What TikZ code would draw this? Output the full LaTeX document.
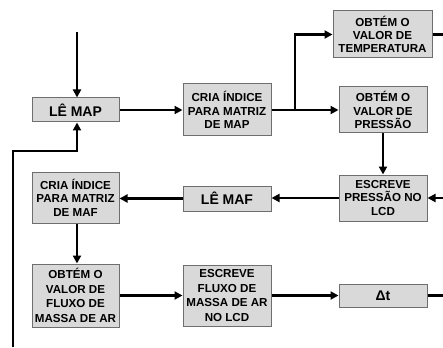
\documentclass[tikz,border=0pt]{standalone}
\usepackage{fontspec}
\setmainfont{Liberation Sans}
\usetikzlibrary{arrows.meta}
\definecolor{boxfill}{HTML}{D9D9D9}
\definecolor{boxline}{HTML}{6E6E6E}
\tikzset{
  blk/.style={draw=boxline, fill=boxfill, line width=1pt, inner sep=0pt,
    align=center, font=\bfseries\fontsize{11.6}{13.6}\selectfont, anchor=center},
  tall/.style={font=\bfseries\fontsize{11.6}{14.8}\selectfont},
  big/.style={font=\bfseries\fontsize{14}{15}\selectfont},
  conn/.style={line width=2.4pt, -{Triangle[length=8pt,width=8pt]}},
  plain/.style={line width=2.4pt}
}
\begin{document}
\begin{tikzpicture}[x=1pt,y=-1pt]
\useasboundingbox (0,0) rectangle (443,347);
% boxes
\node[blk, big, minimum width=87pt, minimum height=24pt] (lemap) at (75.5,110) {LÊ MAP};
\node[blk, minimum width=88pt, minimum height=52pt] (criamap) at (227,110) {CRIA ÍNDICE\\PARA MATRIZ\\DE MAP};
\node[blk, font=\bfseries\fontsize{11.6}{12.8}\selectfont, minimum width=99pt, minimum height=47pt] (temp) at (382.5,34.5) {OBTÉM O\\VALOR DE\\TEMPERATURA};
\node[blk, minimum width=88pt, minimum height=46pt] (press) at (383,110) {OBTÉM O\\VALOR DE\\PRESSÃO};
\node[blk, minimum width=88pt, minimum height=46pt] (escpress) at (383,198) {ESCREVE\\PRESSÃO NO\\LCD};
\node[blk, big, minimum width=88pt, minimum height=25pt] (lemaf) at (227,198.5) {LÊ MAF};
\node[blk, minimum width=87pt, minimum height=51pt] (criamaf) at (75.5,197.5) {CRIA ÍNDICE\\PARA MATRIZ\\DE MAF};
\node[blk, tall, minimum width=87pt, minimum height=63pt] (fluxo) at (75.5,295.5) {OBTÉM O\\VALOR DE\\FLUXO DE\\MASSA DE AR};
\node[blk, tall, minimum width=88pt, minimum height=61pt] (escfluxo) at (227,295.5) {ESCREVE\\FLUXO DE\\MASSA DE AR\\NO LCD};
\node[blk, big, minimum width=88pt, minimum height=23pt] (dt) at (383,295.5) {Δt};
% free ends
\coordinate (topin) at (77,32);
\coordinate (botin) at (13,347);
\coordinate (corner) at (13,151);
\coordinate (corner2) at (77,151);
\coordinate (split) at (295,110);
\coordinate (tempout) at (443,34.5);
\coordinate (escin) at (443,198);
\coordinate (dtout) at (443,295.5);
% connectors
\draw[conn] (topin) -- (lemap.north -| topin);
\draw[conn] (botin) -- (corner) -- (corner2) -- (lemap.south -| corner2);
\draw[conn] (lemap) -- (criamap);
\draw[plain] (criamap.east) -- (split);
\draw[conn] (split) -- (press.west);
\draw[conn] (split) |- (temp.west);
\draw[conn] (press) -- (escpress);
\draw[conn] (escin) -- (escpress.east);
\draw[conn] (escpress.west) -- (lemaf.east |- escpress.west);
\draw[conn] (lemaf) -- (criamaf.east |- lemaf);
\draw[conn] (criamaf.south -| corner2) -- (fluxo.north -| corner2);
\draw[conn] (fluxo) -- (escfluxo);
\draw[conn] (escfluxo) -- (dt);
\draw[plain] (temp.east) -- (tempout);
\draw[plain] (dt.east) -- (dtout);
\end{tikzpicture}
\end{document}
